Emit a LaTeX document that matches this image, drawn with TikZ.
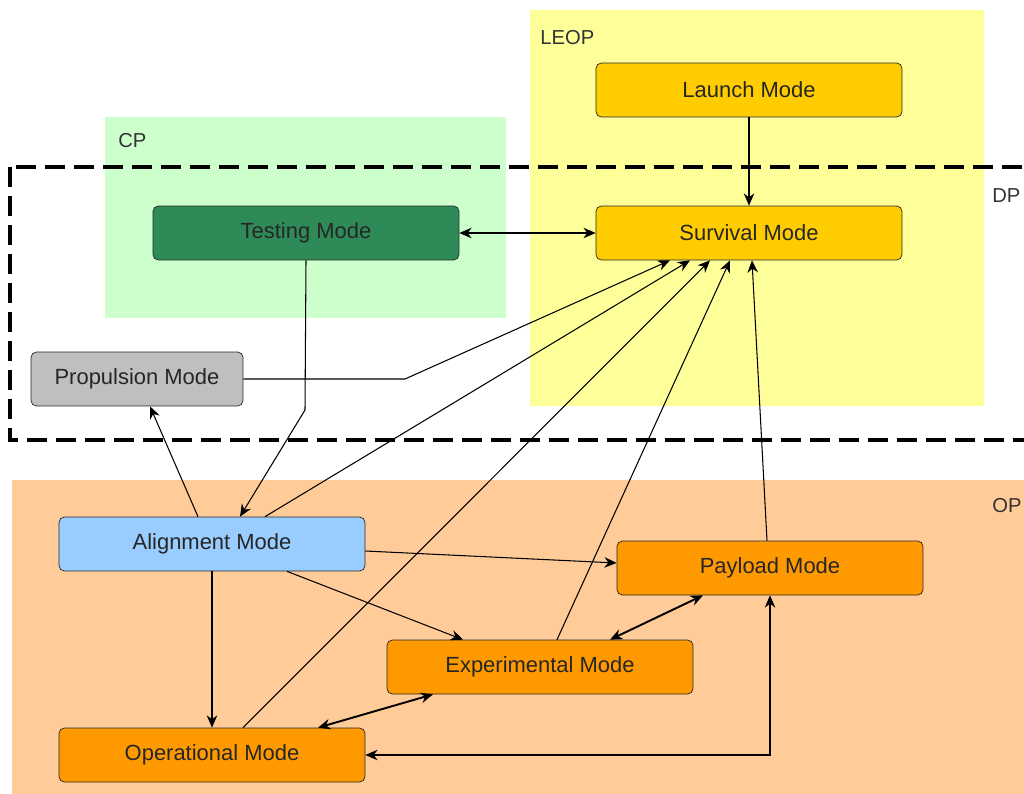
\documentclass[tikz,border=0pt]{standalone}
\usepackage{fontspec}
\setmainfont{Liberation Sans}
\usetikzlibrary{arrows.meta,calc}
\definecolor{leopbg}{RGB}{255,255,153}
\definecolor{cpbg}{RGB}{204,255,204}
\definecolor{opbg}{RGB}{255,204,153}
\definecolor{gold}{RGB}{255,204,0}
\definecolor{seagreen}{RGB}{46,139,87}
\definecolor{skyblue}{RGB}{153,204,255}
\definecolor{orangemode}{RGB}{255,153,0}
\begin{document}
\begin{tikzpicture}[x=0.02cm, y=-0.02cm,
  mode/.style={draw=black!85, rounded corners=3pt, minimum width=6.12cm,
    minimum height=1.08cm, text=black!85, font=\fontsize{12.5}{15}\selectfont},
  link/.style={-{Stealth[length=7pt,width=6pt]}, line width=0.6pt},
  both/.style={{Stealth[length=7pt,width=6pt]}-{Stealth[length=7pt,width=6pt]}, line width=1.1pt},
  zone/.style={anchor=base west, inner sep=0pt, text=black!80, font=\fontsize{11.5}{14}\selectfont}]
\path[use as bounding box] (0,0) rectangle (1024,794);
\clip (0,0) rectangle (1024,794);
% phases
\fill[opbg] (12,480) rectangle (1024,794);
\fill[cpbg] (105,117) rectangle (506,318);
\fill[leopbg] (530,10) rectangle (984,406);
\draw[line width=2.3pt, dash pattern=on 11.4pt off 5.1pt] (10,167) rectangle (1040,440);
\node[zone] (leop) at (540,45) {LEOP};
\node[zone] (cp) at (118,148) {CP};
\node[zone] (dp) at (992,202) {DP};
\node[zone] (op) at (992,512) {OP};
% modes
\node[mode, fill=gold] (launch) at (749,90) {Launch Mode};
\node[mode, fill=gold] (surv) at (749,233) {Survival Mode};
\node[mode, fill=seagreen] (test) at (306,233) {Testing Mode};
\node[mode, fill=black!25, minimum width=4.24cm] (prop) at (137,379) {Propulsion Mode};
\node[mode, fill=skyblue] (align) at (212,544) {Alignment Mode};
\node[mode, fill=orangemode] (pay) at (770,568) {Payload Mode};
\node[mode, fill=orangemode] (exper) at (540,667) {Experimental Mode};
\node[mode, fill=orangemode] (oper) at (212,755) {Operational Mode};
\coordinate (tb) at (305,410);
\coordinate (pb) at (405,379);
% transitions
\draw[link] (launch) -- (surv);
\draw[link, <->, >={Stealth[length=7pt,width=6pt]}] (test) -- (surv);
\draw[link] (test.south) -- (tb) -- ($(align.north)+(28,0)$);
\draw[link] (prop.east) -- (pb) -- ($(surv.south)+(-79,0)$);
\draw[link] ($(align.north)+(53,0)$) -- ($(surv.south)+(-59,0)$);
\draw[link] ($(oper.north)+(31,0)$) -- ($(surv.south)+(-39,0)$);
\draw[link] ($(exper.north)+(17,0)$) -- ($(surv.south)+(-19,0)$);
\draw[link] ($(pay.north)+(-3,0)$) -- ($(surv.south)+(3,0)$);
\draw[link] ($(align.north)+(-14,0)$) -- ($(prop.south)+(13,0)$);
\draw[link] ($(align.east)+(0,7)$) -- ($(pay.west)+(0,-5)$);
\draw[link] ($(align.south)+(75,0)$) -- ($(exper.north)+(-77,0)$);
\draw[link] (align) -- (oper);
\draw[both] ($(exper.south)+(-107,0)$) -- ($(oper.north)+(106,0)$);
\draw[both] ($(exper.north)+(70,0)$) -- ($(pay.south)+(-67,0)$);
\draw[link, <->, >={Stealth[length=7pt,width=6pt]}] (oper.east) -| (pay.south);
\end{tikzpicture}
\end{document}
